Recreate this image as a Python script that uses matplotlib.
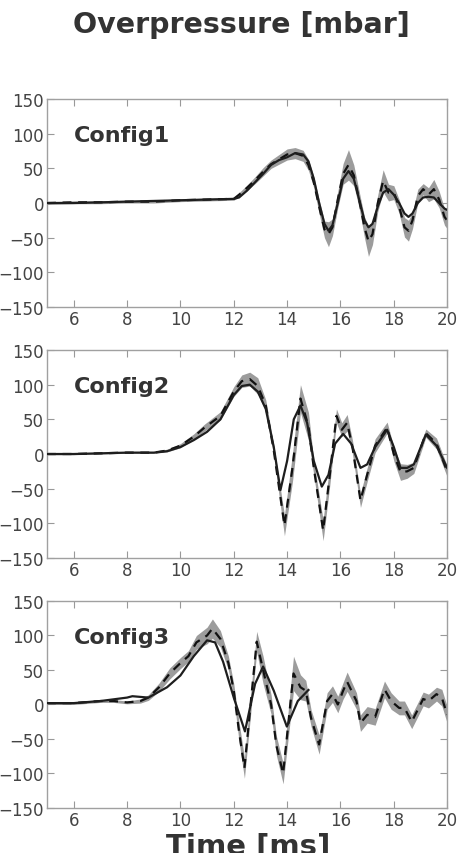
"""
Overpressure traces for three configurations: measured signal (solid),
mean of the simulations (dashed) and the simulation spread (grey band).
"""

import numpy as np
import matplotlib
matplotlib.use("Agg")
import matplotlib.pyplot as plt


# Config1
t_exp1 = [5, 6, 7, 8, 9, 10, 11, 12, 12.2, 12.5, 12.8, 13.1, 13.4, 13.7, 14.0,
	14.3, 14.6, 14.8, 15.0, 15.2, 15.4, 15.55, 15.7, 15.9, 16.1, 16.3, 16.5,
	16.7, 16.9, 17.05, 17.2, 17.4, 17.6, 17.8, 18.0, 18.2, 18.4, 18.55, 18.7,
	18.9, 19.1, 19.3, 19.5, 19.7, 19.9, 20.0]
p_exp1 = [0, 0, 1, 2, 3, 4, 5, 6, 8, 18, 30, 42, 55, 62, 66,
	72, 70, 60, 35, 0, -30, -40, -32, 0, 35, 46, 35,
	5, -25, -35, -30, -5, 15, 20, 12, 0, -15, -20, -15,
	0, 8, 9, 8, 0, -8, -10]
t_sim1 = t_exp1
p_sim1 = [0, 1, 1, 2, 2, 4, 5, 6, 12, 22, 33, 45, 56, 63, 70,
	72, 68, 55, 30, -5, -38, -45, -35, 5, 42, 55, 40,
	5, -35, -55, -45, 0, 32, 15, 15, -5, -35, -40, -25,
	10, 20, 12, 20, 5, -20, -25]
spread1 = [2, 2, 2, 2, 2, 2, 2, 2, 3, 4, 5, 6, 6, 7, 8,
	8, 8, 8, 8, 10, 12, 18, 12, 12, 15, 22, 15,
	12, 15, 22, 15, 12, 16, 12, 10, 10, 14, 15, 12,
	10, 8, 10, 14, 12, 12, 12]

# Config2
t_exp2 = [5, 6, 7, 8, 9, 9.5, 10, 10.5, 11, 11.5, 12, 12.3, 12.6, 12.9, 13.2,
	13.5, 13.75, 14.0, 14.25, 14.5, 14.75, 15.0, 15.3, 15.55, 15.8, 16.1, 16.4,
	16.75, 17.0, 17.3, 17.75, 18.0, 18.25, 18.5, 18.75, 19.2, 19.6, 20.0]
p_exp2 = [0, 0, 1, 2, 2, 4, 10, 20, 32, 50, 85, 98, 100, 90, 65,
	10, -52, -10, 50, 70, 45, -10, -47, -30, 15, 29, 15,
	-20, -15, 10, 35, 10, -20, -20, -15, 28, 12, -20]
t_sim2 = [5, 6, 7, 8, 9, 9.5, 10, 10.5, 10.9, 11.5, 12, 12.3, 12.6, 12.9, 13.2,
	13.5, 13.9, 14.2, 14.5, 14.8, 15.0, 15.35, 15.6, 15.85, 16.05, 16.25, 16.45,
	16.75, 17.0, 17.3, 17.75, 18.0, 18.25, 18.5, 18.75, 19.2, 19.6, 20.0]
p_sim2 = [0, 0, 1, 2, 2, 5, 12, 25, 38, 55, 90, 105, 108, 98, 70,
	5, -103, -20, 80, 40, -20, -110, -30, 55, 35, 45, 10,
	-67, -30, 12, 38, 0, -26, -25, -20, 30, 15, -25]
spread2 = [1, 1, 1, 1, 1, 2, 3, 4, 5, 6, 7, 9, 10, 12, 8,
	8, 15, 20, 20, 20, 10, 15, 15, 10, 10, 12, 10,
	10, 10, 10, 8, 10, 12, 10, 8, 6, 8, 8]

# Config3
t_exp3 = [5, 6, 7, 8, 8.2, 8.8, 9.5, 10, 10.5, 11, 11.3, 11.6, 12.0, 12.42,
	12.8, 13.1, 13.5, 13.99, 14.4, 14.8]
p_exp3 = [2, 2, 5, 10, 12, 10, 25, 42, 70, 93, 90, 62, 10, -39,
	30, 55, 20, -32, 5, 21]
t_sim3 = [5, 6, 7, 7.5, 8, 8.5, 8.8, 9.2, 9.6, 10, 10.3, 10.6, 11, 11.2, 11.5,
	11.8, 12.0, 12.2, 12.4, 12.86, 13.1, 13.4, 13.6, 13.85, 14.24, 14.5, 14.7,
	14.9, 15.2, 15.5, 15.7, 15.9, 16.1, 16.25, 16.6, 16.75, 17.0, 17.3, 17.65,
	17.9, 18.2, 18.4, 18.67, 19.1, 19.3, 19.6, 19.8, 20.0]
p_sim3 = [2, 2, 5, 5, 3, 5, 10, 25, 45, 60, 70, 90, 100, 110, 95,
	60, 20, -40, -92, 91, 50, 0, -60, -100, 45, 25, 20,
	-20, -58, 5, 15, 0, 20, 33, 5, -27, -15, -18, 22,
	5, -5, -5, -25, 8, 5, 15, 10, -15]
spread3 = [2, 2, 2, 2, 2, 3, 4, 6, 8, 8, 8, 10, 12, 14, 12,
	10, 10, 14, 15, 15, 20, 14, 14, 15, 25, 18, 15,
	12, 14, 12, 12, 12, 12, 14, 12, 12, 12, 12, 12,
	12, 10, 10, 10, 10, 10, 10, 12, 12]

config_names = ["Config1", "Config2", "Config3"]
x_ticks = [6, 8, 10, 12, 14, 16, 18, 20]
y_ticks = [-150, -100, -50, 0, 50, 100, 150]

# axes rectangles in figure fractions, top to bottom
panel_rects = [
	[0.102, 0.6393, 0.868, 0.2436],
	[0.102, 0.3454, 0.868, 0.2436],
	[0.102, 0.0527, 0.868, 0.2424],
]


def draw_panel(ax, t_exp, p_exp, t_sim, p_sim, spread, name):
	"""
	Draw one configuration: grey spread band, dashed mean and solid measurement.
	"""
	p_sim = np.asarray(p_sim, dtype=float)
	spread = np.asarray(spread, dtype=float)
	ax.fill_between(t_sim, p_sim - spread, p_sim + spread,
		color="#9c9c9c", lw=0, zorder=1)
	ax.plot(t_exp, p_exp, "-", color="#1e1e1e", lw=1.6, zorder=3)
	ax.plot(t_sim, p_sim, "--", color="#111111", lw=1.6, dashes=(4, 3),
		zorder=2)
	ax.set_xlim(5, 20)
	ax.set_ylim(-150, 150)
	ax.set_xticks(x_ticks)
	ax.set_yticks(y_ticks)
	ax.tick_params(direction="in", top=True, right=True, length=5,
		width=0.8, color="#999999", labelcolor="#444444", labelsize=12,
		pad=2)
	for spine in ax.spines.values():
		spine.set_color("#a0a0a0")
		spine.set_linewidth(1.0)
	ax.text(6.0, 98, name, ha="left", va="center", fontsize=16,
		fontweight="bold", color="#333333")


def main():
	fig = plt.figure(figsize=(4.61, 8.54), dpi=100)
	series = [
		(t_exp1, p_exp1, t_sim1, p_sim1, spread1),
		(t_exp2, p_exp2, t_sim2, p_sim2, spread2),
		(t_exp3, p_exp3, t_sim3, p_sim3, spread3),
	]
	for rect, data, name in zip(panel_rects, series, config_names):
		ax = fig.add_axes(rect)
		draw_panel(ax, *data, name)
	fig.text(0.524, 0.971, "Overpressure [mbar]", ha="center", va="center",
		fontsize=20.5, fontweight="bold", color="#333333")
	fig.text(0.538, 0.008, "Time [ms]", ha="center", va="center",
		fontsize=21, fontweight="bold", color="#333333")
	fig.savefig("out.png", dpi=100)


if __name__ == "__main__":
	main()
